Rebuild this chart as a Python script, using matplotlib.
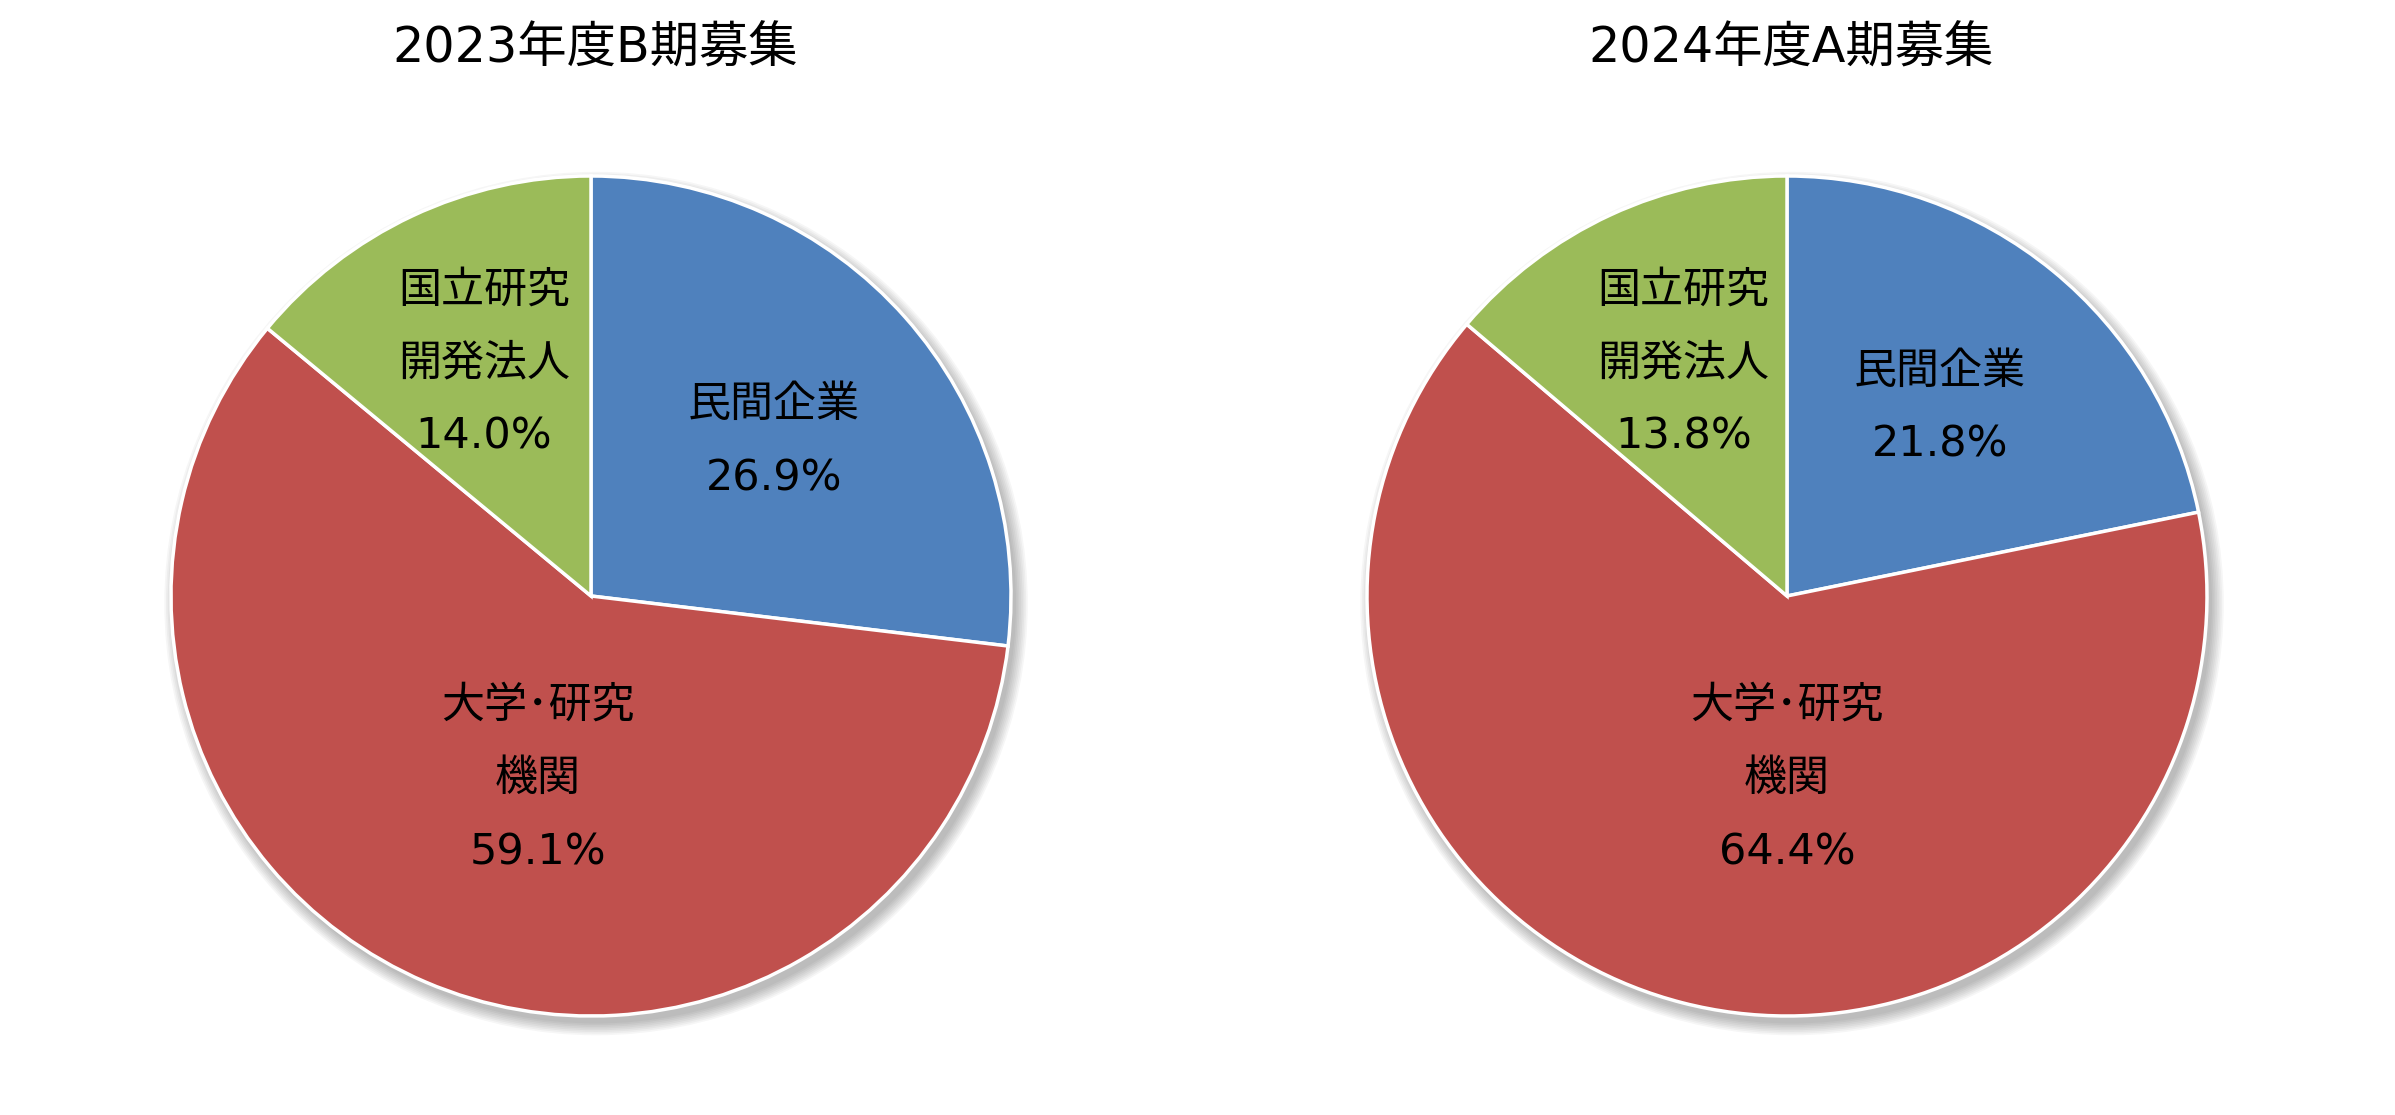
import matplotlib
matplotlib.use("Agg")
import matplotlib.pyplot as plt
from matplotlib.patches import Circle

# latin glyphs from DejaVu (wide, Verdana-like), CJK falls back to Noto
plt.rcParams['font.family'] = ['DejaVu Sans', 'Noto Sans CJK JP']
cjk = ['Noto Sans CJK JP', 'DejaVu Sans']

# data
titles = ["2023年度B期募集", "2024年度A期募集"]
categories = ["民間企業", "大学･研究\n機関", "国立研究\n開発法人"]
values_2023b = [26.9, 59.1, 14.0]
values_2024a = [21.8, 64.4, 13.8]
colors = ["#4F81BD", "#C0504D", "#9BBB59"]

# label block centres (pie radius units), per chart
label_pos = [
    [(0.436, 0.367), (-0.127, -0.436), (-0.255, 0.553)],
    [(0.364, 0.447), (0.0, -0.436), (-0.247, 0.553)],
]

W, H = 2395, 1115
fig = plt.figure(figsize=(W / 100, H / 100), dpi=100)

R = 420
centers = [(591, 596), (1787, 596)]
half = 1.1 * R
gap = 0.174

for k, vals in enumerate([values_2023b, values_2024a]):
    cx, cy = centers[k]
    ax = fig.add_axes([(cx - half) / W, (H - cy - half) / H, 2 * half / W, 2 * half / H])

    # soft shadow
    for i in range(8):
        ax.add_patch(Circle((0.012, -0.018), 1.0 + i * 0.004, color='black',
                            alpha=0.035, lw=0, zorder=0))

    ax.pie(vals, colors=colors, startangle=90, counterclock=False, radius=1.0,
           wedgeprops=dict(edgecolor='white', linewidth=2.5), frame=True)
    ax.set_xlim(-1.1, 1.1)
    ax.set_ylim(-1.1, 1.1)
    ax.set_aspect('equal')
    ax.axis('off')

    for j, (name, v) in enumerate(zip(categories, vals)):
        lines = name.split("\n") + [f"{v:.1f}%"]
        x0, y0 = label_pos[k][j]
        n = len(lines)
        for i, line in enumerate(lines):
            y = y0 + ((n - 1) / 2 - i) * gap
            fam = None if i == n - 1 else cjk
            ax.text(x0, y, line, ha='center', va='center', fontsize=31, color='black',
                    family=fam, zorder=5)

    fig.text((cx + 4) / W, 1 - 49 / H, titles[k], ha='center', va='center', fontsize=35.5, color='black')

fig.savefig("out.png", dpi=100, facecolor='white')
